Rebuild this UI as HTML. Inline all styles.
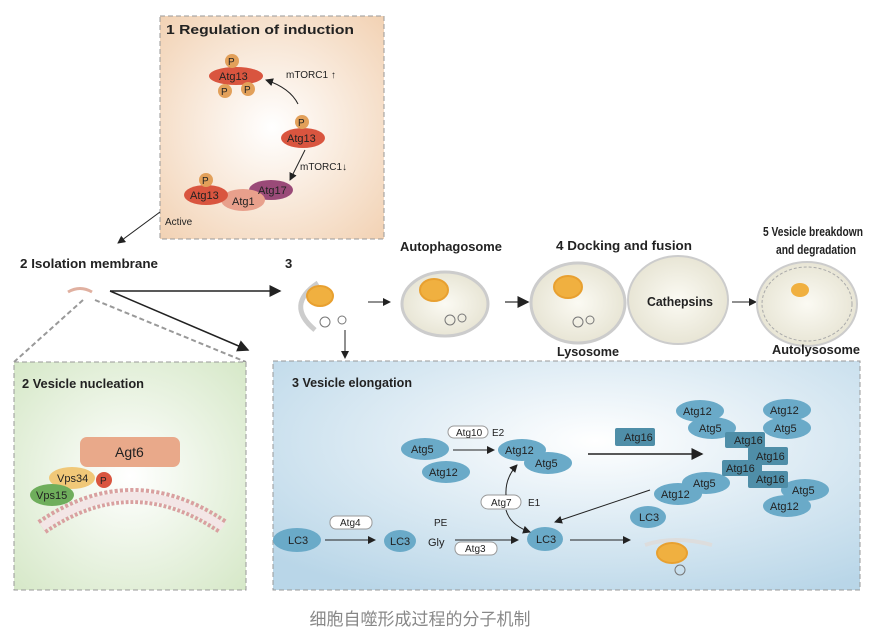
<!DOCTYPE html>
<html><head><meta charset="utf-8"><style>
html,body{margin:0;padding:0;background:#fff}
svg{display:block;font-family:"Liberation Sans","Noto Sans CJK SC",sans-serif}
.t{font-weight:bold;font-size:13px;fill:#222}
.l{font-size:11px;fill:#222}
.s{font-size:10px;fill:#222}
</style></head><body>
<svg width="890" height="639" viewBox="0 0 890 639">
<defs>
<radialGradient id="gp" cx="0.5" cy="0.5" r="0.7"><stop offset="0" stop-color="#fff"/><stop offset="1" stop-color="#f2d2b4"/></radialGradient>
<radialGradient id="gg" cx="0.5" cy="0.5" r="0.7"><stop offset="0" stop-color="#fff"/><stop offset="1" stop-color="#d6e8c8"/></radialGradient>
<radialGradient id="gb" cx="0.55" cy="0.35" r="0.75"><stop offset="0" stop-color="#fff"/><stop offset="1" stop-color="#b9d6e8"/></radialGradient>
<radialGradient id="gv" cx="0.5" cy="0.5" r="0.6"><stop offset="0" stop-color="#fbfaf3"/><stop offset="1" stop-color="#e4e1cf"/></radialGradient>
<marker id="ah" markerWidth="8" markerHeight="8" refX="7" refY="4" orient="auto"><path d="M0,0 L8,4 L0,8 z" fill="#222"/></marker>
</defs>

<!-- Panel 1 -->
<g>
<rect x="160" y="16" width="224" height="223" fill="url(#gp)" stroke="#999" stroke-dasharray="5,3"/>
<text x="166" y="34" class="t" textLength="188" lengthAdjust="spacingAndGlyphs">1 Regulation of induction</text>
<ellipse cx="236" cy="76" rx="27" ry="9" fill="#d9553f"/>
<circle cx="232" cy="61" r="7" fill="#e2a05a"/><text x="228" y="65" class="s">P</text>
<circle cx="225" cy="91" r="7" fill="#e2a05a"/><text x="221" y="95" class="s">P</text>
<circle cx="248" cy="89" r="7" fill="#e2a05a"/><text x="244" y="93" class="s">P</text>
<text x="219" y="80" class="l">Atg13</text>
<text x="286" y="78" class="s">mTORC1 ↑</text>
<path d="M298,104 Q290,88 266,80" fill="none" stroke="#222" marker-end="url(#ah)"/>
<ellipse cx="303" cy="138" rx="22" ry="10" fill="#d9553f"/>
<circle cx="302" cy="122" r="7" fill="#e2a05a"/><text x="298" y="126" class="s">P</text>
<text x="287" y="142" class="l">Atg13</text>
<path d="M305,150 L290,180" fill="none" stroke="#222" marker-end="url(#ah)"/>
<text x="300" y="170" class="s">mTORC1↓</text>
<ellipse cx="271" cy="190" rx="22" ry="10" fill="#9a4a78"/>
<ellipse cx="243" cy="200" rx="22" ry="11" fill="#e8a08c"/>
<ellipse cx="206" cy="195" rx="22" ry="10" fill="#d9553f"/>
<circle cx="206" cy="180" r="7" fill="#e2a05a"/><text x="202" y="184" class="s">P</text>
<text x="190" y="199" class="l">Atg13</text><text x="232" y="205" class="l">Atg1</text><text x="258" y="194" class="l" fill="#eee">Atg17</text>
<text x="165" y="225" class="s">Active</text>
</g>
<path d="M160,212 L118,243" stroke="#222" fill="none" marker-end="url(#ah)"/>

<text x="20" y="268" class="t" textLength="138" lengthAdjust="spacingAndGlyphs">2 Isolation membrane</text>
<path d="M68,292 Q80,285 92,292" stroke="#e0b0a0" stroke-width="3" fill="none"/>
<path d="M110,291 L280,291" stroke="#222" stroke-width="1.5" marker-end="url(#ah)"/>
<path d="M110,291 L248,350" stroke="#222" stroke-width="1.5" marker-end="url(#ah)"/>
<path d="M83,300 L14,362 M95,300 L246,362" stroke="#999" stroke-width="2" stroke-dasharray="5,3"/>

<!-- Panel 2 -->
<g>
<rect x="14" y="362" width="232" height="228" fill="url(#gg)" stroke="#999" stroke-dasharray="5,3"/>
<text x="22" y="388" class="t" textLength="122" lengthAdjust="spacingAndGlyphs">2 Vesicle nucleation</text>
<rect x="80" y="437" width="100" height="30" rx="7" fill="#e9a98a"/><text x="115" y="457" font-size="14" fill="#222">Agt6</text>
<path d="M42,527 Q132,465 223,527" stroke="#d9a0a0" stroke-width="16" fill="none" stroke-dasharray="3,2"/>
<path d="M42,527 Q132,465 223,527" stroke="#f3e6e6" stroke-width="8" fill="none"/>
<ellipse cx="72" cy="478" rx="23" ry="11" fill="#f0c878"/><text x="57" y="482" class="l">Vps34</text>
<circle cx="104" cy="480" r="8" fill="#d9553f"/><text x="100" y="484" class="s">P</text>
<ellipse cx="52" cy="495" rx="22" ry="11" fill="#6fae5c"/><text x="36" y="499" class="l">Vps15</text>
</g>

<!-- Middle row -->
<text x="285" y="268" class="t">3</text>
<path d="M318,283 Q285,305 315,330" stroke="#ccc" stroke-width="5" fill="none"/>
<ellipse cx="320" cy="296" rx="13" ry="10" fill="#f0b040" stroke="#e8a030" stroke-width="2"/>
<circle cx="325" cy="322" r="5" fill="none" stroke="#777"/><circle cx="342" cy="320" r="4" fill="none" stroke="#777"/>
<path d="M368,302 L390,302" stroke="#222" marker-end="url(#ah)"/>
<path d="M345,330 L345,358" stroke="#222" marker-end="url(#ah)"/>
<text x="400" y="251" class="t" textLength="102" lengthAdjust="spacingAndGlyphs">Autophagosome</text>
<ellipse cx="445" cy="304" rx="43" ry="32" fill="url(#gv)" stroke="#ccc" stroke-width="3"/>
<ellipse cx="434" cy="290" rx="14" ry="11" fill="#f0b040" stroke="#e8a030" stroke-width="2"/>
<circle cx="450" cy="320" r="5" fill="none" stroke="#777"/><circle cx="462" cy="318" r="4" fill="none" stroke="#777"/>
<path d="M505,302 L528,302" stroke="#555" stroke-width="1.5" marker-end="url(#ah)"/>
<text x="556" y="250" class="t" textLength="136" lengthAdjust="spacingAndGlyphs">4 Docking and fusion</text>
<ellipse cx="678" cy="300" rx="50" ry="44" fill="url(#gv)" stroke="#ccc" stroke-width="2"/>
<ellipse cx="578" cy="303" rx="47" ry="40" fill="url(#gv)" stroke="#ccc" stroke-width="3"/>
<ellipse cx="568" cy="287" rx="14" ry="11" fill="#f0b040" stroke="#e8a030" stroke-width="2"/>
<circle cx="578" cy="322" r="5" fill="none" stroke="#777"/><circle cx="590" cy="320" r="4" fill="none" stroke="#777"/>
<text x="647" y="306" class="t" textLength="66" lengthAdjust="spacingAndGlyphs">Cathepsins</text>
<text x="557" y="356" class="t" textLength="62" lengthAdjust="spacingAndGlyphs">Lysosome</text>
<path d="M732,302 L756,302" stroke="#222" marker-end="url(#ah)"/>
<text x="763" y="236" class="t" textLength="100" lengthAdjust="spacingAndGlyphs">5 Vesicle breakdown</text>
<text x="776" y="254" class="t" textLength="80" lengthAdjust="spacingAndGlyphs">and degradation</text>
<ellipse cx="807" cy="304" rx="50" ry="42" fill="url(#gv)" stroke="#ccc" stroke-width="2"/>
<ellipse cx="807" cy="304" rx="45" ry="37" fill="none" stroke="#aaa" stroke-dasharray="3,2"/>
<ellipse cx="800" cy="290" rx="9" ry="7" fill="#f0b040"/>
<text x="772" y="354" class="t" textLength="88" lengthAdjust="spacingAndGlyphs">Autolysosome</text>

<!-- Panel 3 -->
<g>
<rect x="273" y="361" width="587" height="229" fill="url(#gb)" stroke="#999" stroke-dasharray="5,3"/>
<text x="292" y="387" class="t" textLength="120" lengthAdjust="spacingAndGlyphs">3 Vesicle elongation</text>
<g fill="#6aaac8">
<ellipse cx="425" cy="449" rx="24" ry="11"/><ellipse cx="446" cy="472" rx="24" ry="11"/>
<ellipse cx="522" cy="450" rx="24" ry="11"/><ellipse cx="548" cy="463" rx="24" ry="11"/>
<ellipse cx="700" cy="411" rx="24" ry="11"/><ellipse cx="712" cy="428" rx="24" ry="11"/>
<ellipse cx="787" cy="410" rx="24" ry="11"/><ellipse cx="787" cy="428" rx="24" ry="11"/>
<ellipse cx="706" cy="483" rx="24" ry="11"/><ellipse cx="678" cy="494" rx="24" ry="11"/>
<ellipse cx="805" cy="490" rx="24" ry="11"/><ellipse cx="787" cy="506" rx="24" ry="11"/>
<ellipse cx="297" cy="540" rx="24" ry="12"/><ellipse cx="400" cy="541" rx="16" ry="11"/>
<ellipse cx="545" cy="539" rx="18" ry="12"/><ellipse cx="648" cy="517" rx="18" ry="11"/>
</g>
<g fill="#4f8ea8">
<rect x="615" y="428" width="40" height="18" rx="2"/>
<rect x="725" y="432" width="40" height="16" rx="2"/><rect x="748" y="447" width="40" height="18" rx="2"/>
<rect x="722" y="460" width="40" height="16" rx="2"/><rect x="748" y="471" width="40" height="17" rx="2"/>
</g>
<g class="l">
<text x="411" y="453">Atg5</text><text x="429" y="476">Atg12</text><text x="505" y="454">Atg12</text><text x="535" y="467">Atg5</text>
<text x="683" y="415">Atg12</text><text x="699" y="432">Atg5</text><text x="770" y="414">Atg12</text><text x="774" y="432">Atg5</text>
<text x="693" y="487">Atg5</text><text x="661" y="498">Atg12</text><text x="792" y="494">Atg5</text><text x="770" y="510">Atg12</text>
<text x="624" y="441">Atg16</text><text x="734" y="444">Atg16</text><text x="756" y="460">Atg16</text><text x="726" y="472">Atg16</text><text x="756" y="483">Atg16</text>
<text x="288" y="544">LC3</text><text x="390" y="545">LC3</text><text x="428" y="546">Gly</text><text x="536" y="543">LC3</text><text x="639" y="521">LC3</text>
</g>
<g fill="#fff" stroke="#999">
<rect x="448" y="426" width="40" height="12" rx="6"/><rect x="481" y="495" width="40" height="14" rx="7"/>
<rect x="330" y="516" width="42" height="13" rx="6"/><rect x="455" y="542" width="42" height="13" rx="6"/>
</g>
<g class="s">
<text x="456" y="436">Atg10</text><text x="492" y="436">E2</text><text x="491" y="506">Atg7</text><text x="528" y="506">E1</text>
<text x="340" y="526">Atg4</text><text x="465" y="552">Atg3</text><text x="434" y="526">PE</text>
</g>
<path d="M453,450 L494,450" stroke="#222" marker-end="url(#ah)"/>
<path d="M325,540 L375,540" stroke="#222" marker-end="url(#ah)"/>
<path d="M455,540 L518,540" stroke="#222" marker-end="url(#ah)"/>
<path d="M570,540 L630,540" stroke="#222" marker-end="url(#ah)"/>
<path d="M588,454 L702,454" stroke="#222" stroke-width="1.5" marker-end="url(#ah)"/>
<path d="M650,490 L555,522" stroke="#222" marker-end="url(#ah)"/>
<path d="M506,495 Q505,478 517,465" fill="none" stroke="#222" marker-end="url(#ah)"/>
<path d="M506,510 Q510,525 530,532" fill="none" stroke="#222" marker-end="url(#ah)"/>
<path d="M645,545 Q675,535 712,545" stroke="#ddd" stroke-width="4" fill="none"/>
<ellipse cx="672" cy="553" rx="15" ry="10" fill="#f0b040" stroke="#e8a030" stroke-width="2"/>
<circle cx="680" cy="570" r="5" fill="none" stroke="#777"/>
</g>

<text x="420" y="625" text-anchor="middle" font-size="17" fill="#888">细胞自噬形成过程的分子机制</text>
</svg>
</body></html>
